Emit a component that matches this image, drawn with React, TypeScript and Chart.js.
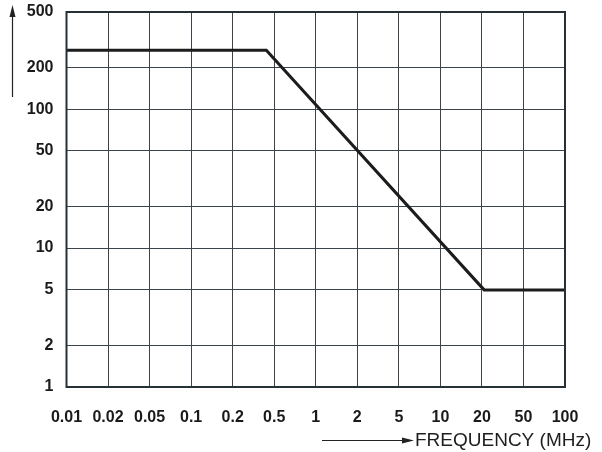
import React, { useEffect, useRef } from "react";
import { Chart, registerables } from "chart.js";

Chart.register(...registerables);

// X axis tick labels (evenly spaced on the chart)
const xTickValues = [0.01, 0.02, 0.05, 0.1, 0.2, 0.5, 1, 2, 5, 10, 20, 50, 100];
const xTickLabels = ["0.01", "0.02", "0.05", "0.1", "0.2", "0.5", "1", "2", "5", "10", "20", "50", "100"];
// Y axis ticks (log)
const yTickValues = [1, 2, 5, 10, 20, 50, 100, 200, 500];
// Curve
const curveFreqMHz = [0.01, 0.42, 21, 100];
const curveValues = [265, 265, 5, 5];

const xAxisTitle = "FREQUENCY (MHz)";

function freqToPos(f: number): number {
  for (let i = 0; i < xTickValues.length - 1; i++) {
    const a = xTickValues[i];
    const b = xTickValues[i + 1];
    if (f >= a && f <= b) {
      return i + Math.log(f / a) / Math.log(b / a);
    }
  }
  return f < xTickValues[0] ? 0 : xTickValues.length - 1;
}

const FONT = "'Liberation Sans', Arial, Helvetica, sans-serif";

const decorPlugin = {
  id: "decor",
  afterDatasetsDraw(chart: any) {
    const { ctx, chartArea } = chart;
    ctx.save();
    ctx.strokeStyle = "#263035";
    ctx.lineWidth = 2;
    ctx.strokeRect(chartArea.left, chartArea.top, chartArea.right - chartArea.left, chartArea.bottom - chartArea.top);
    ctx.restore();
  },
  afterDraw(chart: any) {
    const { ctx } = chart;
    ctx.save();
    ctx.strokeStyle = "#222";
    ctx.fillStyle = "#222";
    ctx.lineWidth = 1.2;
    // Y arrow
    ctx.beginPath();
    ctx.moveTo(12.5, 97);
    ctx.lineTo(12.5, 15);
    ctx.stroke();
    ctx.beginPath();
    ctx.moveTo(12.5, 5);
    ctx.lineTo(9.5, 17);
    ctx.lineTo(15.5, 17);
    ctx.closePath();
    ctx.fill();
    // X arrow
    ctx.beginPath();
    ctx.moveTo(322, 440.5);
    ctx.lineTo(405, 440.5);
    ctx.stroke();
    ctx.beginPath();
    ctx.moveTo(414, 440.5);
    ctx.lineTo(402, 437.5);
    ctx.lineTo(402, 443.5);
    ctx.closePath();
    ctx.fill();
    ctx.font = `19px ${FONT}`;
    ctx.textBaseline = "middle";
    ctx.textAlign = "left";
    ctx.fillStyle = "#1e1e1e";
    ctx.fillText(xAxisTitle, 415, 441);
    ctx.restore();
  },
};

export default function App() {
  const ref = useRef<HTMLCanvasElement | null>(null);
  useEffect(() => {
    if (!ref.current) return;
    const data = curveFreqMHz.map((f, i) => ({ x: freqToPos(f), y: curveValues[i] }));
    const chart = new Chart(ref.current, {
      type: "line",
      data: {
        datasets: [
          {
            data,
            borderColor: "#1c1c1c",
            borderWidth: 3,
            pointRadius: 0,
            tension: 0,
            borderJoinStyle: "miter" as any,
          },
        ],
      },
      plugins: [decorPlugin],
      options: {
        animation: false,
        responsive: false,
        maintainAspectRatio: false,
        layout: { padding: { left: 0, top: 12, right: 37, bottom: 0 } },
        plugins: { legend: { display: false }, tooltip: { enabled: false } },
        scales: {
          x: {
            type: "linear",
            min: 0,
            max: xTickValues.length - 1,
            afterBuildTicks: (scale: any) => {
              scale.ticks = xTickLabels.map((_, i) => ({ value: i }));
            },
            afterFit: (scale: any) => {
              scale.height = 65;
              scale.paddingLeft = 0;
              scale.paddingRight = 0;
            },
            grid: { color: "#3a444a", lineWidth: 1, drawTicks: false },
            border: { display: false },
            ticks: {
              autoSkip: false,
              maxRotation: 0,
              padding: 21,
              color: "#1a1a1a",
              font: { family: FONT, size: 16, weight: "bold" },
              callback: (v: any) => xTickLabels[Math.round(Number(v))] ?? "",
            },
          },
          y: {
            type: "logarithmic",
            min: 1,
            max: 500,
            afterBuildTicks: (scale: any) => {
              scale.ticks = yTickValues.map((v) => ({ value: v }));
            },
            afterFit: (scale: any) => {
              scale.width = 66.5;
              scale.paddingTop = 0;
              scale.paddingBottom = 0;
            },
            grid: { color: "#3a444a", lineWidth: 1, drawTicks: false },
            border: { display: false },
            ticks: {
              autoSkip: false,
              padding: 13,
              color: "#1a1a1a",
              font: { family: FONT, size: 16, weight: "bold" },
              callback: (v: any) => String(v),
            },
          },
        },
      } as any,
    });
    return () => chart.destroy();
  }, []);
  return (
    <div style={{ position: "fixed", left: 0, top: 0, width: 602, height: 452, background: "#fff" }}>
      <canvas ref={ref} width={602} height={452} style={{ width: 602, height: 452 }} />
    </div>
  );
}
